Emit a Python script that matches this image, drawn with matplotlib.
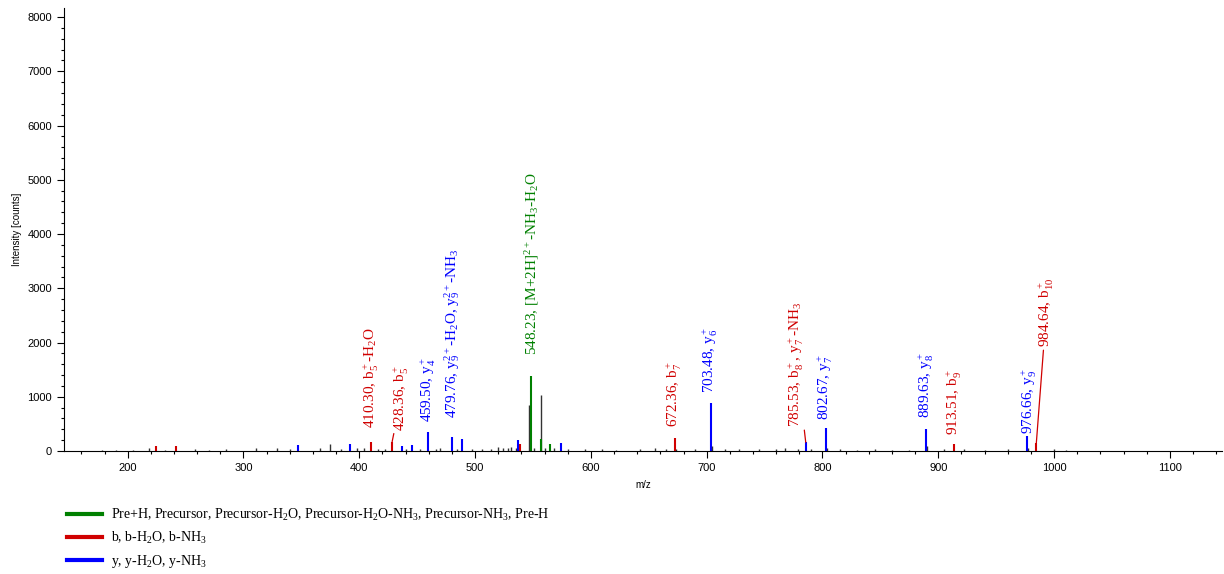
import matplotlib
matplotlib.use("Agg")
import matplotlib.pyplot as plt
from matplotlib.lines import Line2D
from matplotlib.ticker import MultipleLocator

plt.rcParams["font.family"] = "Liberation Sans"
plt.rcParams["mathtext.fontset"] = "custom"
plt.rcParams["mathtext.rm"] = "Liberation Serif"
plt.rcParams["mathtext.it"] = "Liberation Serif:italic"
plt.rcParams["mathtext.bf"] = "Liberation Serif:bold"

GREEN = "#008000"
RED = "#D00000"
BLUE = "#0000FF"
GREY = "#333333"

# unassigned peaks
noise_mz = [178, 190, 205, 218.5, 232, 258, 270, 285, 311, 328.8, 340, 366, 375,
            384, 398, 404, 416, 422, 440, 452, 466, 470, 484, 497, 506, 514,
            520, 524, 528, 531, 535, 546.8, 551, 556.8, 560, 568, 580, 595,
            610, 622, 642, 655, 665, 673.5, 690, 704.7, 716, 728, 745, 760,
            767.5, 779, 790, 803.5, 815, 830, 845, 860, 875, 890.5, 905,
            922.4, 940, 960, 977.5, 1000, 1010]
noise_int = [25, 20, 20, 60, 20, 30, 25, 30, 60, 60, 30, 55, 120,
             40, 60, 50, 40, 30, 40, 30, 40, 50, 40, 40, 30, 40,
             70, 60, 50, 80, 60, 850, 60, 1040, 60, 50, 30, 30,
             30, 25, 40, 60, 40, 40, 40, 100, 30, 40, 30, 40,
             60, 40, 30, 60, 30, 25, 30, 25, 25, 100, 30,
             40, 20, 40, 60, 30, 20]

# precursor related
pre_mz = [548.23, 556.9, 565.0]
pre_int = [1390, 220, 130]

# b ions
b_mz = [224.5, 242.0, 410.30, 428.36, 539.0, 672.36, 913.51, 984.64]
b_int = [85, 85, 160, 170, 130, 245, 135, 140]

# y ions
y_mz = [346.7, 392.4, 437.0, 445.4, 459.50, 479.76, 488.3, 537.0, 574.5,
        703.48, 785.53, 802.67, 889.63, 976.66]
y_int = [110, 120, 90, 110, 350, 260, 215, 200, 140,
         890, 160, 430, 405, 275]

# annotations
label_mz = [410.30, 428.36, 459.50, 479.76, 548.23, 672.36, 703.48,
            785.53, 802.67, 889.63, 913.51, 976.66, 984.64]
label_int = [160, 170, 350, 260, 1390, 245, 890, 160, 430, 405, 135, 275, 140]
label_text = [
    r"410.30, b$_5^+$-H$_2$O",
    r"428.36, b$_5^+$",
    r"459.50, y$_4^+$",
    r"479.76, y$_9^{2+}$-H$_2$O, y$_9^{2+}$-NH$_3$",
    r"548.23, [M+2H]$^{2+}$-NH$_3$-H$_2$O",
    r"672.36, b$_7^+$",
    r"703.48, y$_6^+$",
    r"785.53, b$_8^+$, y$_7^+$-NH$_3$",
    r"802.67, y$_7^+$",
    r"889.63, y$_8^+$",
    r"913.51, b$_9^+$",
    r"976.66, y$_9^+$",
    r"984.64, b$_{10}^+$",
]
label_color = [RED, RED, BLUE, BLUE, GREEN, RED, BLUE, RED, BLUE, BLUE, RED, BLUE, RED]
# text offset from peak top, in pixels, and whether a leader line is drawn
label_offset = [(0, 14), (9, 11), (0, 10), (0, 19), (1, 21), (0, 11), (0, 10),
                (-9, 15), (0, 8), (0, 11), (0, 9), (2, 2), (10, 96)]
label_leader = [False, True, False, False, False, False, False,
                True, False, False, False, False, True]

legend_labels = [
    r"Pre+H, Precursor, Precursor-H$_2$O, Precursor-H$_2$O-NH$_3$, Precursor-NH$_3$, Pre-H",
    r"b, b-H$_2$O, b-NH$_3$",
    r"y, y-H$_2$O, y-NH$_3$",
]

fig = plt.figure(figsize=(12.24, 5.74), dpi=100)
ax = fig.add_axes([64 / 1224, 1 - 451 / 574, 1158 / 1224, 443 / 574])

ax.vlines(noise_mz, 0, noise_int, colors=GREY, linewidth=1.0)
ax.vlines(pre_mz, 0, pre_int, colors=GREEN, linewidth=1.5)
ax.vlines(b_mz, 0, b_int, colors=RED, linewidth=1.5)
ax.vlines(y_mz, 0, y_int, colors=BLUE, linewidth=1.5)

for mz, h, txt, col, off, lead in zip(label_mz, label_int, label_text,
                                      label_color, label_offset, label_leader):
    arrow = None
    if lead:
        arrow = dict(arrowstyle="-", color=col, lw=0.9, shrinkA=0, shrinkB=0)
    ax.annotate(txt, xy=(mz, h), xytext=off, textcoords="offset pixels",
                rotation=90, ha="center", va="bottom", color=col,
                fontsize=11, family="Liberation Serif", arrowprops=arrow)

ax.set_xlim(145, 1145)
ax.set_ylim(0, 8166)
ax.xaxis.set_major_locator(MultipleLocator(100))
ax.xaxis.set_minor_locator(MultipleLocator(20))
ax.yaxis.set_major_locator(MultipleLocator(1000))
ax.yaxis.set_minor_locator(MultipleLocator(200))
ax.tick_params(axis="both", which="major", length=5, width=0.8, labelsize=8)
ax.tick_params(axis="both", which="minor", length=2.5, width=0.8)
ax.spines["top"].set_visible(False)
ax.spines["right"].set_visible(False)
ax.set_xlabel("m/z", fontsize=7, labelpad=5)
ax.set_ylabel("Intensity [counts]", fontsize=7, labelpad=4)

handles = [Line2D([], [], color=c, lw=3) for c in (GREEN, RED, BLUE)]
leg = fig.legend(handles, legend_labels, loc="upper left",
                 bbox_to_anchor=(67 / 1224, 1 - 507 / 574), frameon=False,
                 fontsize=10, handlelength=2.5, handletextpad=0.7,
                 labelspacing=0.5, borderpad=0, borderaxespad=0)
for t in leg.get_texts():
    t.set_family("Liberation Serif")

fig.savefig("out.png", dpi=100)
